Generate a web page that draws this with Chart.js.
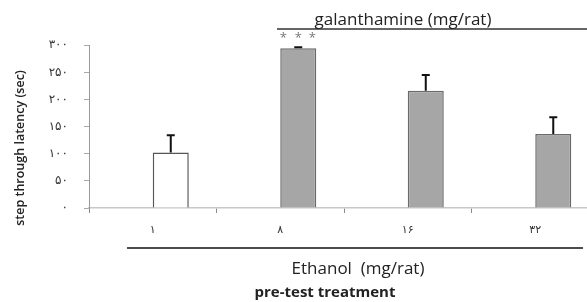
<!DOCTYPE html>
<html>
<head>
<meta charset="utf-8">
<script src="https://cdn.jsdelivr.net/npm/chart.js@4.4.0/dist/chart.umd.min.js"></script>
<style>
    html, body { margin: 0; padding: 0; background: #fff; overflow: hidden; }
    #wrap { position: relative; width: 600px; height: 302px; }
</style>
</head>
<body>
<div id="wrap"><canvas id="chartLatency"></canvas></div>
<script>
// dados
const doses = ['۱', '۸', '۱۶', '۳۲'];
const latency = [102, 294, 216, 136];
const latencyErr = [32, 2, 29, 31];
const emptySeries = [null, null, null, null];
const yTicks = [0, 50, 100, 150, 200, 250, 300];

const toFa = n => String(n).replace(/\d/g, d => '۰۱۲۳۴۵۶۷۸۹'[d]);
const FONT = "'Open Sans', 'DejaVu Sans', sans-serif";

const extras = {
    id: 'extras',
    afterDatasetsDraw(chart) {
        const { ctx, scales: { y } } = chart;
        const bars = chart.getDatasetMeta(1).data;
        ctx.save();

        // barras de erro (só para cima)
        ctx.strokeStyle = '#111';
        ctx.lineWidth = 2;
        bars.forEach((bar, i) => {
            const top = y.getPixelForValue(latency[i]);
            const end = y.getPixelForValue(latency[i] + latencyErr[i]);
            ctx.beginPath();
            ctx.moveTo(bar.x, top);
            ctx.lineTo(bar.x, end);
            ctx.moveTo(bar.x - 4, end);
            ctx.lineTo(bar.x + 4, end);
            ctx.stroke();
        });

        // asteriscos
        ctx.fillStyle = '#777';
        ctx.font = '13px ' + FONT;
        ctx.textAlign = 'center';
        ctx.textBaseline = 'alphabetic';
        [-15, 0, 14].forEach(dx => ctx.fillText('*', bars[1].x + dx, 42));

        // galanthamine
        ctx.strokeStyle = '#333';
        ctx.lineWidth = 1.5;
        ctx.beginPath();
        ctx.moveTo(277, 29);
        ctx.lineTo(600, 29);
        ctx.stroke();
        ctx.fillStyle = '#222';
        ctx.font = '17px ' + FONT;
        ctx.fillText('galanthamine (mg/rat)', 403, 25);

        // Ethanol
        ctx.strokeStyle = '#111';
        ctx.beginPath();
        ctx.moveTo(127, 248);
        ctx.lineTo(583, 248);
        ctx.stroke();
        ctx.fillText('Ethanol  (mg/rat)', 358, 274);

        ctx.font = 'bold 15px ' + FONT;
        ctx.fillText('pre-test treatment', 325, 297);

        // título do eixo y
        ctx.translate(20, 148);
        ctx.rotate(-Math.PI / 2);
        ctx.font = '600 12.5px ' + FONT;
        ctx.textBaseline = 'middle';
        ctx.fillText('step through latency (sec)', 0, 0);
        ctx.restore();
    }
};

new Chart(document.getElementById('chartLatency'), {
    type: 'bar',
    data: {
        labels: doses,
        datasets: [
            {
                label: 'vazio',
                data: emptySeries,
                backgroundColor: '#fff'
            },
            {
                label: 'latency',
                data: latency,
                backgroundColor: c => c.dataIndex === 0 ? '#ffffff' : '#a6a6a6',
                borderColor: c => c.dataIndex === 0 ? '#555' : '#6a6a6a',
                borderWidth: 1.5,
                borderSkipped: 'bottom'
            }
        ]
    },
    plugins: [extras],
    options: {
        responsive: true,
        maintainAspectRatio: false,
        animation: false,
        datasets: { bar: { categoryPercentage: 0.565, barPercentage: 1 } },
        layout: { padding: { top: 45, right: 1, left: 0, bottom: 0 } },
        plugins: {
            legend: { display: false },
            tooltip: { enabled: false }
        },
        scales: {
            x: {
                offset: true,
                afterFit: s => { s.height = 94; },
                grid: {
                    drawOnChartArea: false,
                    drawTicks: true,
                    tickLength: 5,
                    color: '#888'
                },
                border: { color: '#c8c8c8', width: 1.5 },
                ticks: {
                    padding: 10,
                    color: '#333',
                    font: { family: FONT, size: 11 }
                }
            },
            y: {
                min: 0,
                max: 300,
                afterFit: s => { s.width = 89; },
                afterBuildTicks: s => { s.ticks = yTicks.map(v => ({ value: v })); },
                grid: {
                    drawOnChartArea: false,
                    drawTicks: true,
                    tickLength: 5,
                    color: '#aaa'
                },
                border: { color: '#999', width: 1 },
                ticks: {
                    padding: 16,
                    color: '#333',
                    font: { family: FONT, size: 12 },
                    callback: v => toFa(v)
                }
            }
        }
    }
});
</script>
</body>
</html>
